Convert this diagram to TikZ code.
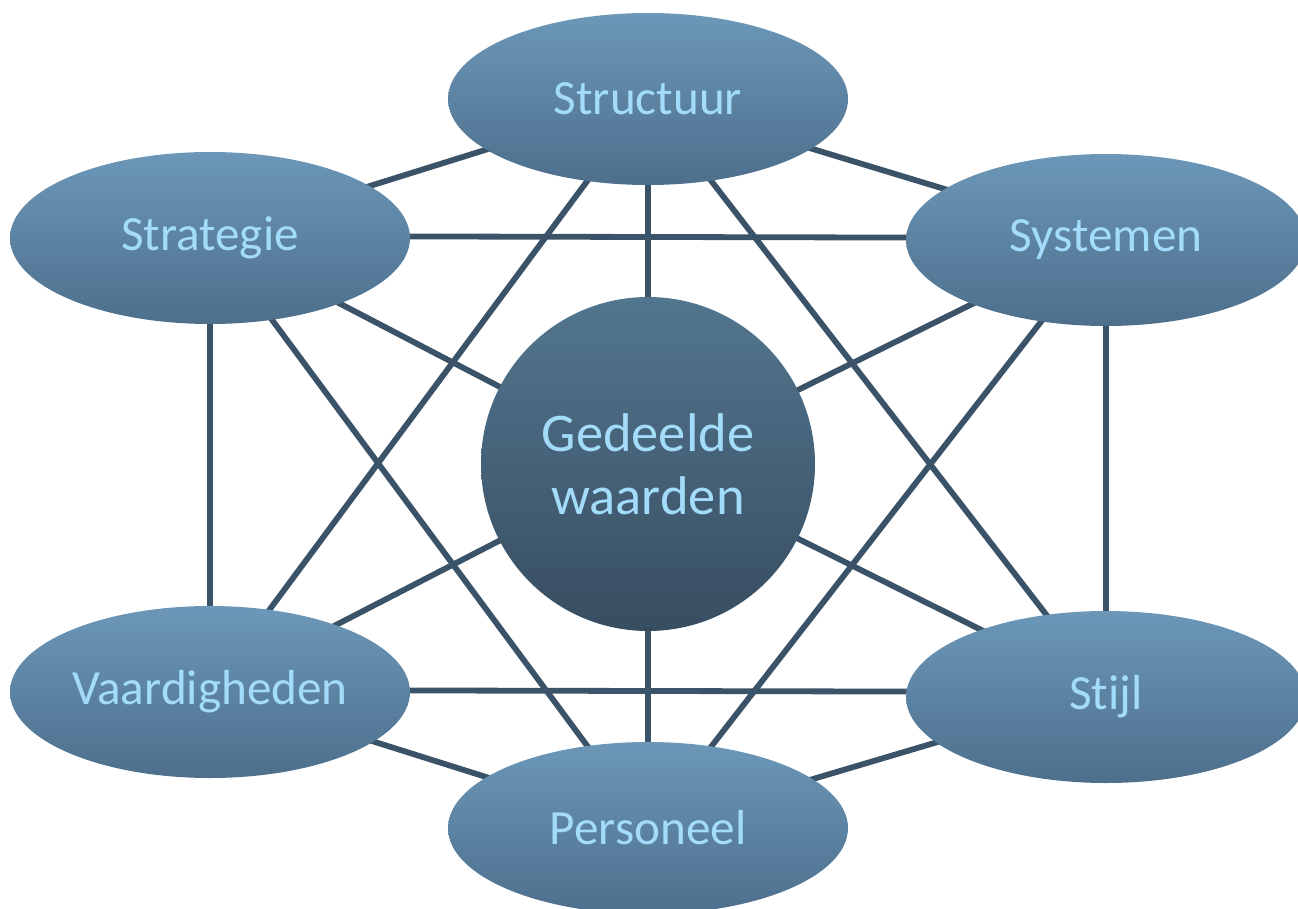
\documentclass[tikz,border=0pt]{standalone}
\usepackage{fontspec}
\setmainfont[Ligatures=NoCommon]{Carlito}
\usetikzlibrary{shapes.geometric}
\definecolor{linec}{HTML}{3B5368}
\definecolor{elltop}{HTML}{6C97B8}
\definecolor{ellbot}{HTML}{4D6F8C}
\definecolor{cirtop}{HTML}{52768F}
\definecolor{cirbot}{HTML}{384D60}
\definecolor{txtc}{HTML}{A3DBFA}
\tikzset{
  ell/.style={ellipse, minimum width=400*0.02cm, minimum height=172*0.02cm, inner sep=0pt,
    top color=elltop, bottom color=ellbot, text=txtc, font=\fontsize{28}{32}\selectfont},
  cir/.style={circle, minimum size=334*0.02cm, inner sep=0pt,
    top color=cirtop, bottom color=cirbot, text=txtc, align=center,
    font=\fontsize{31}{36}\selectfont},
  conn/.style={draw=linec, line width=3.3pt}
}
\begin{document}
\begin{tikzpicture}[x=0.02cm,y=-0.02cm]
\useasboundingbox (0,0) rectangle (1298,909);
\coordinate (cS) at (648,99);
\coordinate (cT) at (210,236);
\coordinate (cY) at (1106,238);
\coordinate (cV) at (210,690);
\coordinate (cL) at (1106,692);
\coordinate (cP) at (648,828);
\coordinate (cG) at (648,464);
\foreach \a/\b in {cS/cT,cS/cY,cS/cV,cS/cL,cS/cG,
                   cT/cY,cT/cV,cT/cP,cT/cG,
                   cY/cL,cY/cP,cY/cG,
                   cV/cL,cV/cP,cV/cG,
                   cL/cP,cL/cG,cP/cG}
  \draw[conn] (\a) -- (\b);
\node[cir] (G) at (cG) {Gedeelde\\waarden};
\node[ell] (S) at (cS) {Structuur};
\node[ell] (T) at (210,238) {Strategie};
\node[ell] (Y) at (1106,240) {Systemen};
\node[ell] (V) at (210,692) {Vaardigheden};
\node[ell] (L) at (1106,697) {Stijl};
\node[ell] (P) at (cP) {Personeel};
\end{tikzpicture}
\end{document}
